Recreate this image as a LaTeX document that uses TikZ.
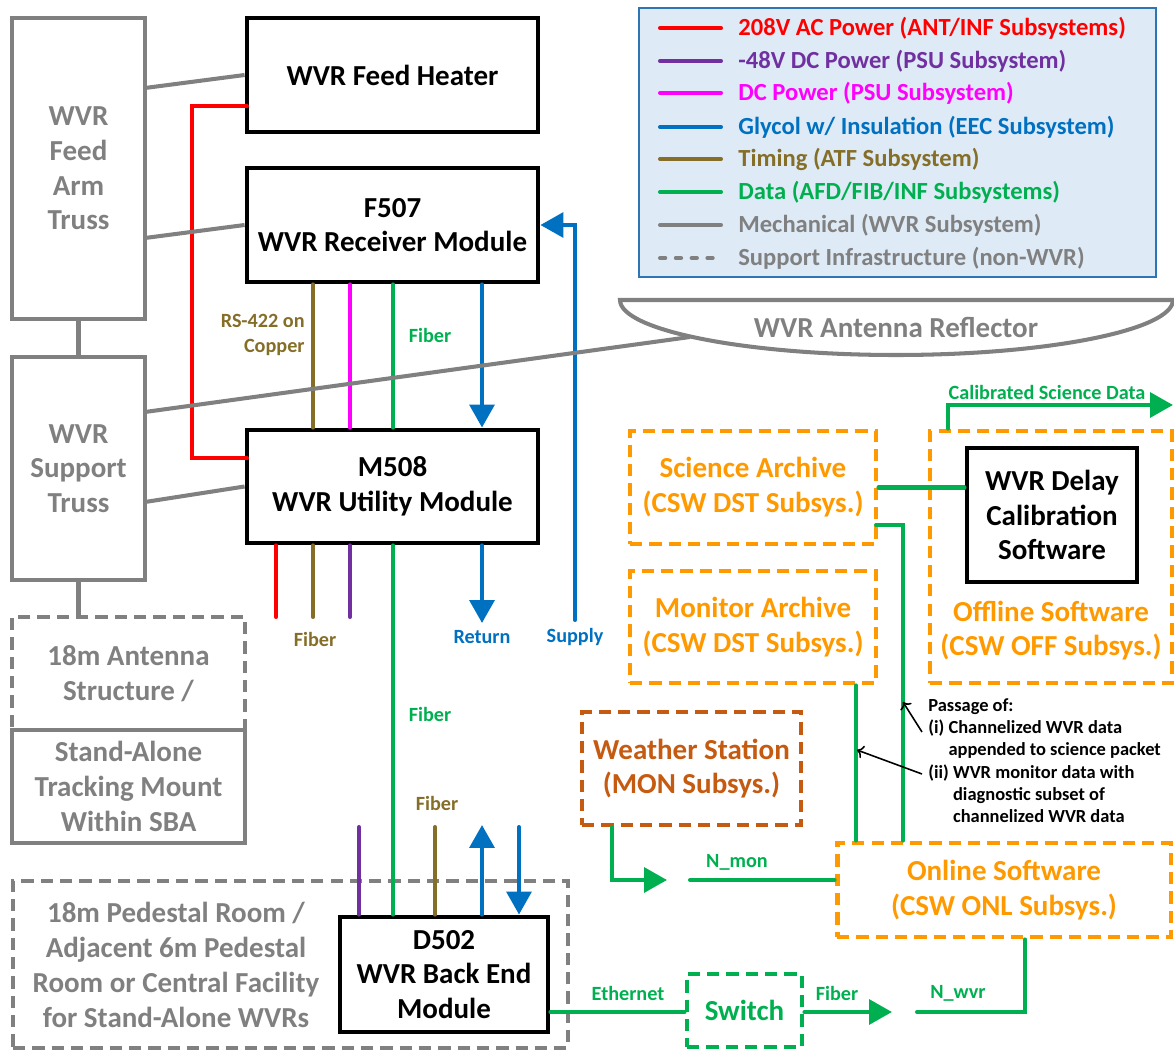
\documentclass[tikz,border=0pt]{standalone}
\usepackage{fontspec}
\setmainfont{Carlito}
\usepackage{tikz}
\usetikzlibrary{arrows.meta}

\definecolor{acred}{RGB}{255,0,0}
\definecolor{dcpurple}{RGB}{112,48,160}
\definecolor{dcmagenta}{RGB}{255,0,255}
\definecolor{glyblue}{RGB}{0,112,192}
\definecolor{timbrown}{RGB}{133,110,40}
\definecolor{datagreen}{RGB}{0,176,80}
\definecolor{mechgray}{RGB}{128,128,128}
\definecolor{csworange}{RGB}{255,153,0}
\definecolor{monbrown}{RGB}{197,90,17}
\definecolor{legfill}{RGB}{222,235,247}
\definecolor{legedge}{RGB}{46,117,182}

\newcommand{\boxfont}{\fontsize{16.5}{19.8}\selectfont\bfseries}
\newcommand{\legfont}{\fontsize{14}{16}\selectfont\bfseries}
\newcommand{\tagfont}{\fontsize{11.5}{14}\selectfont\bfseries}
\newcommand{\notefont}{\fontsize{10.5}{12.7}\selectfont\bfseries}

\begin{document}
\begin{tikzpicture}[x=0.02cm, y=-0.02cm,
    every node/.style={align=center, inner sep=0pt},
    module/.style={draw=black, line width=2.8pt, fill=white, font=\boxfont},
    truss/.style={draw=mechgray, line width=2.3pt, text=mechgray, font=\boxfont},
    infra/.style={draw=mechgray, line width=2.6pt, dash pattern=on 7pt off 4pt, text=mechgray, font=\boxfont},
    csw/.style={draw=csworange, line width=2.8pt, dash pattern=on 7pt off 4pt, text=csworange, font=\boxfont},
    cable/.style={line width=2.3pt, line cap=round},
    mech/.style={draw=mechgray, line width=2.3pt},
    data/.style={cable, datagreen},
    big/.style={-{Triangle[length=13pt,width=14pt]}},
    tag/.style={font=\tagfont},
    legtext/.style={anchor=west, font=\legfont}]

\useasboundingbox (0,0) rectangle (1174,1051);

% legend of cable types
\node[draw=legedge, fill=legfill, line width=1.5pt, minimum width=10.34cm, minimum height=5.38cm] (legend) at (897.5,142.5) {};
\draw[cable, acred] (660,28) -- (721,28);
\node[legtext, text=acred] (legac) at (738,28) {208V AC Power (ANT/INF Subsystems)};
\draw[cable, dcpurple] (660,61) -- (721,61);
\node[legtext, text=dcpurple] (legdc) at (738,61) {-48V DC Power (PSU Subsystem)};
\draw[cable, dcmagenta] (660,93) -- (721,93);
\node[legtext, text=dcmagenta] (legpsu) at (738,93) {DC Power (PSU Subsystem)};
\draw[cable, glyblue] (660,127) -- (721,127);
\node[legtext, text=glyblue] (leggly) at (738,127) {Glycol w/ Insulation (EEC Subsystem)};
\draw[cable, timbrown] (660,159) -- (721,159);
\node[legtext, text=timbrown] (legtim) at (738,159) {Timing (ATF Subsystem)};
\draw[cable, datagreen] (660,192) -- (721,192);
\node[legtext, text=datagreen] (legdata) at (738,192) {Data (AFD/FIB/INF Subsystems)};
\draw[cable, mechgray] (660,225) -- (721,225);
\node[legtext, text=mechgray] (legmech) at (738,225) {Mechanical (WVR Subsystem)};
\draw[cable, mechgray, dash pattern=on 3pt off 6pt] (660,258) -- (721,258);
\node[legtext, text=mechgray] (leginfra) at (738,258) {Support Infrastructure (non-WVR)};

% antenna structure on the left
\node[truss, minimum width=2.66cm, minimum height=6.02cm] (feedtruss) at (78.5,168.5) {WVR\\Feed\\Arm\\Truss};
\node[truss, minimum width=2.66cm, minimum height=4.46cm] (suptruss) at (78.5,468.5) {WVR\\Support\\Truss};
\node[infra, minimum width=4.66cm, minimum height=2.26cm] (antstruct) at (128.5,673.5) {18m Antenna\\Structure /};
\node[truss, minimum width=4.66cm, minimum height=2.26cm] (standalone) at (128.5,786.5) {Stand-Alone\\Tracking Mount\\Within SBA};
\node[infra, minimum width=11.1cm, minimum height=3.34cm] (pedestal) at (290.5,964.5) {};
\node[text=mechgray, font=\boxfont] (pedtext) at (176,965) {18m Pedestal Room /\\Adjacent 6m Pedestal\\Room or Central Facility\\for Stand-Alone WVRs};

% reflector
\coordinate (refl) at (690,337);
\draw[mech] (620,300) -- (1173,300) .. controls (1173,330) and (1048,355) .. (896,355) .. controls (744,355) and (620,330) .. cycle;
\node[text=mechgray, font=\boxfont] (refltext) at (896,327) {WVR Antenna Reflector};

% WVR modules
\node[module, minimum width=5.82cm, minimum height=2.28cm] (heater) at (392.5,75) {WVR Feed Heater};
\node[module, minimum width=5.82cm, minimum height=2.28cm] (f507) at (392.5,225) {F507\\WVR Receiver Module};
\node[module, minimum width=5.82cm, minimum height=2.26cm] (m508) at (392.5,486.5) {M508\\WVR Utility Module};
\node[module, minimum width=4.16cm, minimum height=2.3cm] (d502) at (444,974.5) {D502\\WVR Back End\\Module};

% software and archives
\node[csw, minimum width=4.92cm, minimum height=2.26cm] (sciarch) at (753,487.5) {Science Archive\\(CSW DST Subsys.)};
\node[csw, minimum width=4.92cm, minimum height=2.24cm] (monarch) at (753,627) {Monitor Archive\\(CSW DST Subsys.)};
\node[csw, minimum width=4.84cm, minimum height=5.04cm] (offline) at (1051,557) {};
\node[text=csworange, font=\boxfont] (offtext) at (1051,630.5) {Offline Software\\(CSW OFF Subsys.)};
\node[module, minimum width=3.4cm, minimum height=2.68cm] (delay) at (1052,515) {WVR Delay\\Calibration\\Software};
\node[csw, draw=monbrown, text=monbrown, minimum width=4.38cm, minimum height=2.26cm] (weather) at (691.5,768.5) {Weather Station\\(MON Subsys.)};
\node[csw, minimum width=6.68cm, minimum height=1.88cm] (online) at (1004,890) {Online Software\\(CSW ONL Subsys.)};
\node[csw, draw=datagreen, text=datagreen, minimum width=2.3cm, minimum height=1.46cm] (switch) at (744.5,1010.5) {Switch};

% x positions of the cable runs
\coordinate (xredup) at (192,0);
\coordinate (xred) at (276,0);
\coordinate (xtim) at (313,0);
\coordinate (xdc) at (350,0);
\coordinate (xdata) at (393,0);
\coordinate (xret) at (482,0);
\coordinate (xsup) at (575,0);
\coordinate (x48) at (359,0);
\coordinate (xtimlo) at (435,0);
\coordinate (xsuplo) at (519,0);
\coordinate (cutup) at (0,617);
\coordinate (cutlo) at (0,827);

% power
\coordinate (redA) at (247,106);
\coordinate (redB) at (247,458);
\draw[cable, acred] (redA) -| (redB -| xredup) -- (redB);
\draw[cable, acred] (m508.south -| xred) -- (xred |- cutup);
\draw[cable, dcmagenta] (f507.south -| xdc) -- (m508.north -| xdc);
\draw[cable, dcpurple] (m508.south -| xdc) -- (xdc |- cutup);
\draw[cable, dcpurple] (x48 |- cutlo) -- (d502.north -| x48);

% timing
\draw[cable, timbrown] (f507.south -| xtim) -- (m508.north -| xtim);
\draw[cable, timbrown] (m508.south -| xtim) -- (xtim |- cutup);
\draw[cable, timbrown] (xtimlo |- cutlo) -- (d502.north -| xtimlo);

% glycol
\coordinate (retend) at (482,623);
\coordinate (supend) at (575,620);
\coordinate (uptip) at (482,825);
\draw[cable, glyblue, big] (f507.south -| xret) -- (m508.north -| xret);
\draw[cable, glyblue, big] (m508.south -| xret) -- (retend);
\draw[cable, glyblue, big] (supend) |- (f507.east);
\draw[cable, glyblue, big] (d502.north -| xret) -- (uptip);
\draw[cable, glyblue, big] (xsuplo |- cutlo) -- (d502.north -| xsuplo);

% data
\draw[data] (f507.south -| xdata) -- (m508.north -| xdata);
\draw[data] (m508.south -| xdata) -- (d502.north -| xdata);

\coordinate (ethY) at (0,1012);
\coordinate (wvrTip) at (892,1012);
\coordinate (wvrStart) at (917,1012);
\coordinate (xonl) at (1025,0);
\draw[data] (d502.east |- ethY) -- (switch.west |- ethY);
\draw[data, big] (switch.east |- ethY) -- (wvrTip);
\draw[data] (wvrStart) -| (online.south -| xonl);

\coordinate (xwx) at (612,0);
\coordinate (monTip) at (667,880);
\coordinate (monStart) at (690,880);
\draw[data, big] (weather.south -| xwx) |- (monTip);
\draw[data] (monStart) -- (online.west |- monStart);

\coordinate (xmon) at (856,0);
\coordinate (xsci) at (903,0);
\coordinate (sciB) at (876,525);
\draw[data] (online.north -| xmon) -- (monarch.south -| xmon);
\draw[data] (online.north -| xsci) |- (sciB);
\draw[data] (sciarch.east) -- (sciarch.east -| delay.west);

\coordinate (xcal) at (948,0);
\coordinate (calEnd) at (1173,405);
\draw[data, big] (offline.north -| xcal) |- (calEnd);

% mechanical links
\coordinate (ftA) at (145,88);
\coordinate (ftB) at (145,238);
\coordinate (stA) at (145,412);
\coordinate (stB) at (145,502);
\draw[mech] (ftA) -- (heater.west);
\draw[mech] (ftB) -- (f507.west);
\draw[mech] (feedtruss.south) -- (suptruss.north);
\draw[mech] (stA) -- (refl);
\draw[mech] (stB) -- (m508.west);
\draw[mech] (suptruss.south) -- (antstruct.north -| suptruss.south);

% cable labels
\node[tag, text=timbrown, align=right, anchor=east] (rs422) at (305,335) {RS-422 on\\Copper};
\node[tag, text=datagreen] (fibup) at (430,335) {Fiber};
\node[tag, text=timbrown] (fibtim) at (315,639) {Fiber};
\node[tag, text=glyblue] (retlab) at (482,637) {Return};
\node[tag, text=glyblue] (suplab) at (575,637) {Supply};
\node[tag, text=datagreen] (fibmid) at (430,714) {Fiber};
\node[tag, text=timbrown] (fibtimlo) at (437,803) {Fiber};
\node[tag, text=datagreen] (ethlab) at (628,993) {Ethernet};
\node[tag, text=datagreen] (fiblo) at (837,993) {Fiber};
\node[tag, text=datagreen] (nwvr) at (958,993) {N\_wvr};
\node[tag, text=datagreen] (nmon) at (737,862) {N\_mon};
\node[tag, text=datagreen] (callab) at (1047,392) {Calibrated Science Data};

% note on the archive links
\coordinate (tipA) at (903,702);
\coordinate (tipB) at (857,750);
\coordinate (noteA) at (922,732);
\coordinate (noteB) at (922,774);
\draw[->, line width=0.9pt] (noteA) -- (tipA);
\draw[->, line width=0.9pt] (noteB) -- (tipB);
\node[anchor=north west, align=left, font=\notefont] (passage) at (928,698) {Passage of:\\(i) Channelized WVR data\\\phantom{(i) }appended to science packet\\(ii) WVR monitor data with\\\phantom{(ii) }diagnostic subset of\\\phantom{(ii) }channelized WVR data};
\end{tikzpicture}
\end{document}
